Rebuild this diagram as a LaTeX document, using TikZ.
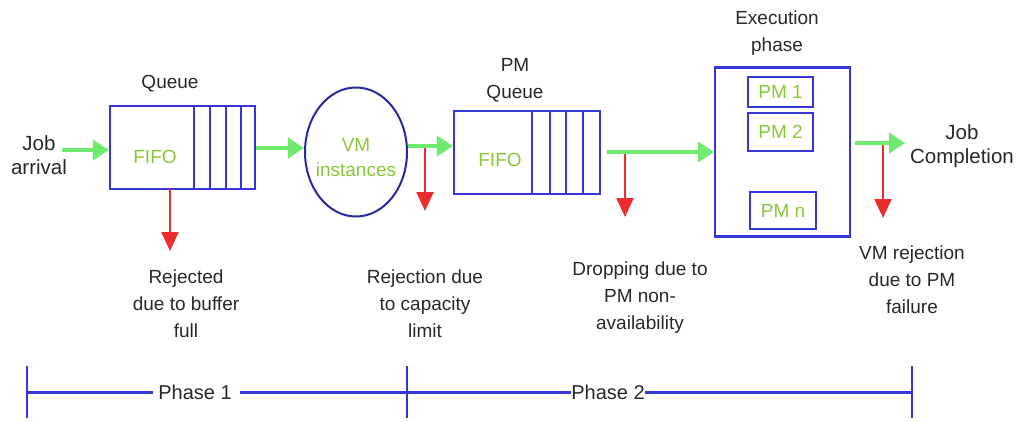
\documentclass[tikz,border=0pt]{standalone}
\usepackage{fontspec}
\setmainfont{Liberation Sans}
\usetikzlibrary{arrows.meta,shapes.geometric}
\definecolor{qblue}{RGB}{55,55,215}
\definecolor{cblue}{RGB}{40,40,160}
\definecolor{agreen}{RGB}{110,235,110}
\definecolor{tgreen}{RGB}{135,200,55}
\definecolor{ared}{RGB}{235,45,45}
\definecolor{tgray}{RGB}{40,40,40}
\begin{document}
\begin{tikzpicture}[x=1pt,y=-1pt,
  box/.style={draw=qblue,line width=2.2pt,inner sep=0pt},
  stripe/.style={draw=qblue,line width=2.2pt},
  garrow/.style={draw=agreen,line width=4pt,-{Triangle[width=20pt,length=16pt]}},
  rarrow/.style={draw=ared,line width=2.5pt,-{Triangle[width=17pt,length=19pt]}},
  lbl/.style={text=tgray,font=\fontsize{19}{27}\selectfont,align=center,inner sep=0pt},
  biglbl/.style={text=tgray,font=\fontsize{20.5}{24}\selectfont,align=center,inner sep=0pt},
  glbl/.style={text=tgreen,font=\fontsize{19}{25}\selectfont,align=center,inner sep=0pt},
  phase/.style={draw=qblue,line width=3pt},
  tick/.style={draw=qblue,line width=2pt},
]
\useasboundingbox (0,0) rectangle (1016,422);

% Job arrival
\node[biglbl] (jarr) at (39,155) {Job\\arrival};

% Queue 1
\node[box,minimum width=145pt,minimum height=83pt] (q1) at (182.5,147.5) {};
\foreach \x in {194,210,226,241} \draw[stripe] (\x,106) -- (\x,189);
\node[lbl] (q1t) at (170,84) {Queue};
\node[glbl] (q1f) at (155,157) {FIFO};

% VM instances
\node[draw=cblue,line width=2pt,ellipse,minimum width=102pt,minimum height=129pt,inner sep=0pt] (vm) at (356,152) {};
\node[glbl] (vmt) at (356,158) {VM\\instances};

% PM Queue
\node[box,minimum width=146pt,minimum height=83pt] (q2) at (527,152.5) {};
\foreach \x in {532,550,566,583} \draw[stripe] (\x,111) -- (\x,194);
\node[lbl] (q2t) at (515,80) {PM\\Queue};
\node[glbl] (q2f) at (500,160) {FIFO};

% Execution phase
\node[box,minimum width=135pt,minimum height=169pt] (ex) at (782.5,152) {};
\node[lbl] (ext) at (777,33) {Execution\\phase};
\node[box,minimum width=65pt,minimum height=30pt] (pm1) at (780.5,92) {};
\node[glbl] at (pm1) {PM 1};
\node[box,minimum width=65pt,minimum height=38pt] (pm2) at (780.5,132) {};
\node[glbl] at (pm2) {PM 2};
\node[box,minimum width=66pt,minimum height=37pt] (pmn) at (783,210.5) {};
\node[glbl] at (pmn) {PM n};

% Job completion
\node[biglbl] (jcomp) at (962,146) {Job\\Completion};

% green flow arrows
\coordinate (g1s) at (62,150);
\draw[garrow] (g1s) -- (q1.west |- g1s);
\coordinate (g2s) at (q1.east |- 0,148);
\draw[garrow] (g2s) -- (vm.west |- g2s);
\coordinate (g3s) at (vm.east |- 0,146);
\draw[garrow] (g3s) -- (q2.west |- g3s);
\coordinate (g4s) at (607,152);
\draw[garrow] (g4s) -- (ex.west |- g4s);
\coordinate (g5s) at (855,143);
\coordinate (g5e) at (905,143);
\draw[garrow] (g5s) -- (g5e);

% red rejection arrows
\coordinate (r1s) at (170,189); \coordinate (r1e) at (170,251);
\draw[rarrow] (r1s) -- (r1e);
\coordinate (r2s) at (425,148); \coordinate (r2e) at (425,211);
\draw[rarrow] (r2s) -- (r2e);
\coordinate (r3s) at (625,154); \coordinate (r3e) at (625,217);
\draw[rarrow] (r3s) -- (r3e);
\coordinate (r4s) at (883,145); \coordinate (r4e) at (883,218);
\draw[rarrow] (r4s) -- (r4e);

% rejection labels
\node[lbl] (l1) at (186,304) {Rejected\\due to buffer\\full};
\node[lbl] (l2) at (425,304) {Rejection due\\to capacity\\limit};
\node[lbl] (l3) at (640,298) {Dropping due to\\PM non-\\availability};
\node[lbl] (l4) at (912,280) {VM rejection\\due to PM\\failure};

% phase bar
\coordinate (t0) at (27,392); \coordinate (t1) at (407,392); \coordinate (t2) at (912,392);
\node[lbl,font=\fontsize{20}{24}\selectfont] (p1) at (195,392) {Phase 1};
\node[lbl,font=\fontsize{20}{24}\selectfont] (p2) at (608,392) {Phase 2};
\draw[phase] (t0) -- ([xshift=-5pt]p1.west |- t0);
\draw[phase] ([xshift=8pt]p1.east |- t0) -- (t1);
\draw[phase] (t1) -- (p2.west |- t0);
\draw[phase] (p2.east |- t0) -- (t2);
\foreach \t in {t0,t1,t2} \draw[tick] ([yshift=-26pt]\t) -- ([yshift=26pt]\t);
\end{tikzpicture}
\end{document}
